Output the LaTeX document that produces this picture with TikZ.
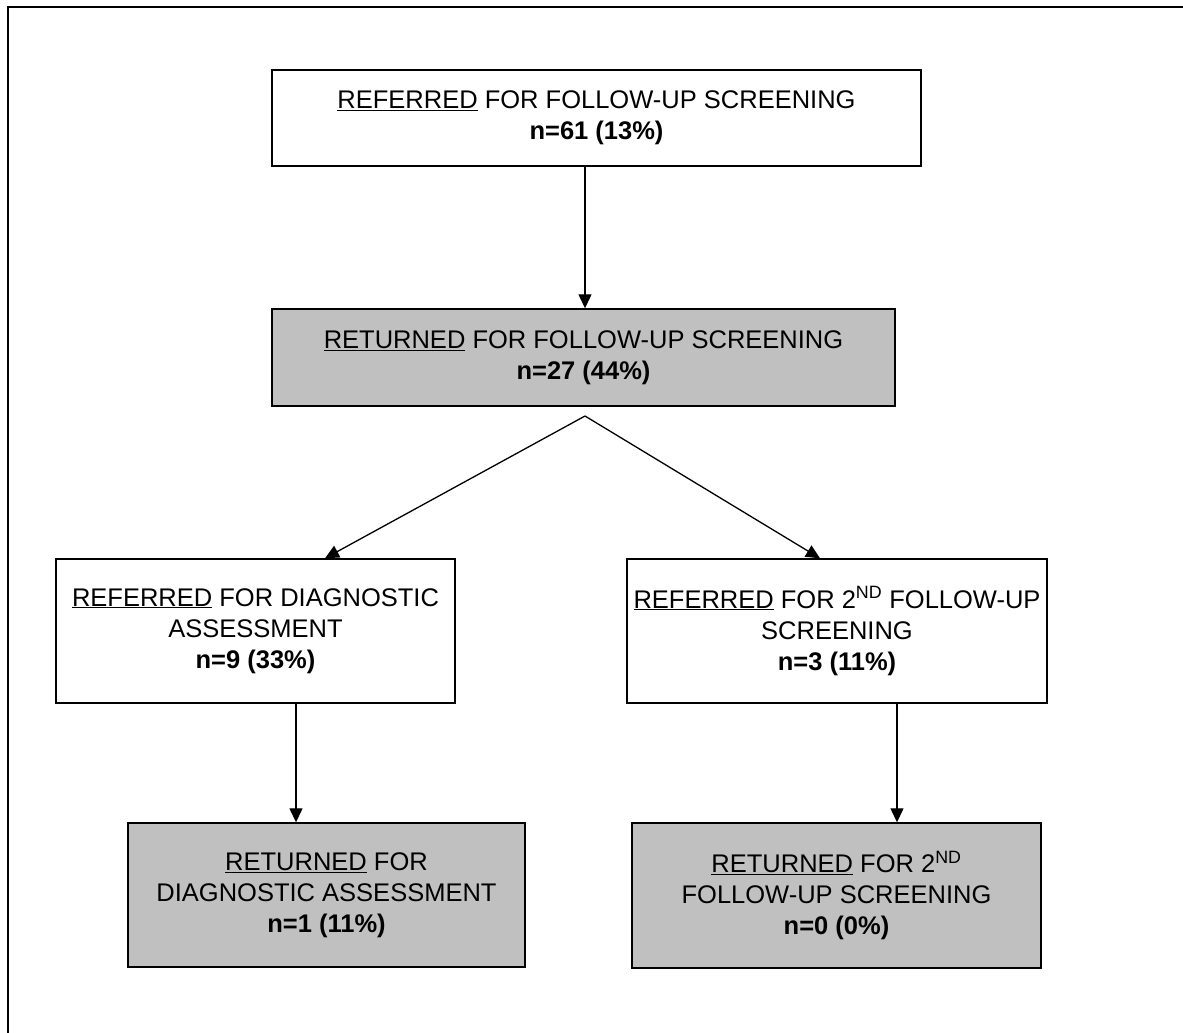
\documentclass[tikz,border=0pt]{standalone}
\usepackage{fontspec}
\setmainfont{Liberation Sans}
\usetikzlibrary{arrows.meta}
\definecolor{boxgray}{HTML}{C0C0C0}
\tikzset{
  box/.style={draw=black, line width=1.4pt, align=center, inner sep=0pt,
    font=\fontsize{25.5}{31}\selectfont, anchor=center},
  whitebox/.style={box, fill=white},
  graybox/.style={box, fill=boxgray},
  arr/.style={line width=1.3pt, -{Triangle[length=14pt,width=13pt]}},
  frame/.style={line width=2pt}
}
\begin{document}
\begin{tikzpicture}[x=1pt,y=-1pt]
\useasboundingbox (0,0) rectangle (1183,1033);
\draw[frame] (8,1034) -- (8,7) -- (1184,7);

\node[whitebox, minimum width=649pt, minimum height=96pt] (B1) at (596.5,118)
  {\underline{REFERRED} FOR FOLLOW-UP SCREENING\\ \textbf{n=61 (13\%)}};
\node[graybox, minimum width=623pt, minimum height=97pt] (B2) at (583.5,357.5)
  {\underline{RETURNED} FOR FOLLOW-UP SCREENING\\ \textbf{n=27 (44\%)}};
\node[whitebox, minimum width=399pt, minimum height=144pt] (B3) at (255.5,631)
  {\underline{REFERRED} FOR DIAGNOSTIC\\ ASSESSMENT\\ \textbf{n=9 (33\%)}};
\node[whitebox, minimum width=420pt, minimum height=144pt] (B4) at (837,631)
  {\underline{REFERRED} FOR 2\textsuperscript{ND} FOLLOW-UP\\ SCREENING\\ \textbf{n=3 (11\%)}};
\node[graybox, minimum width=397pt, minimum height=144pt] (B5) at (326.5,895)
  {\underline{RETURNED} FOR\\ DIAGNOSTIC ASSESSMENT\\ \textbf{n=1 (11\%)}};
\node[graybox, minimum width=409pt, minimum height=145pt] (B6) at (836.5,895.5)
  {\underline{RETURNED} FOR 2\textsuperscript{ND}\\ FOLLOW-UP SCREENING\\ \textbf{n=0 (0\%)}};

\coordinate (c1) at (585,0);
\coordinate (apex) at (585,416);
\coordinate (tl) at (325,0);
\coordinate (tr) at (820,0);
\coordinate (vl) at (296,0);
\coordinate (vr) at (897,0);

\draw[arr] (B1.south -| c1) -- (B2.north -| c1);
\draw[arr] (apex) -- (B3.north -| tl);
\draw[arr] (apex) -- (B4.north -| tr);
\draw[arr] (B3.south -| vl) -- (B5.north -| vl);
\draw[arr] (B4.south -| vr) -- (B6.north -| vr);
\end{tikzpicture}
\end{document}
